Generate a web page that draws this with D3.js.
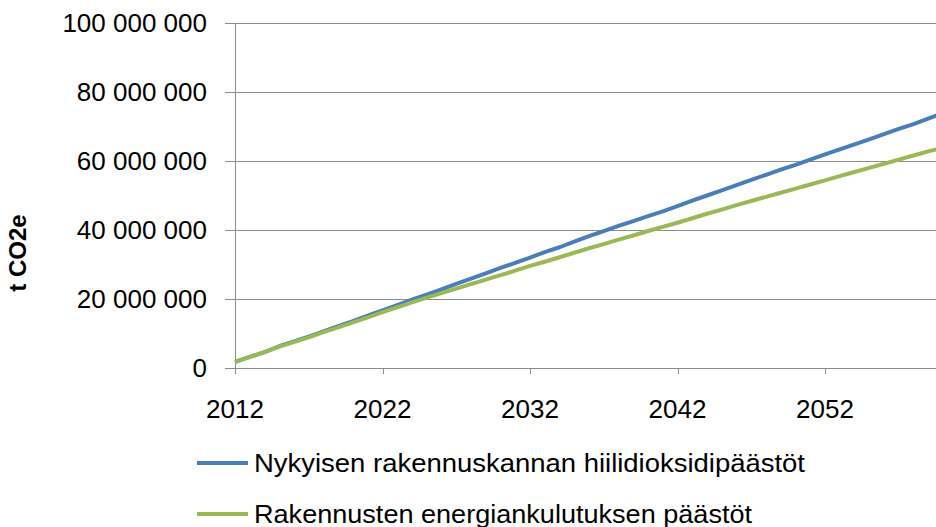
<!DOCTYPE html>
<html>
<head>
<meta charset="utf-8">
<script src="https://cdn.jsdelivr.net/npm/d3@7"></script>
<style>
  html, body { margin: 0; padding: 0; background: #fff; }
  svg { display: block; }
</style>
</head>
<body>
<svg id="chart" width="936" height="527"></svg>
<script>
// ---- Data ----
const years = d3.range(2012, 2061);
const seriesNames = [
  "Nykyisen rakennuskannan hiilidioksidipäästöt",
  "Rakennusten energiankulutuksen päästöt"
];
const blueValues = [
  1.8, 3.2, 4.6, 6.3, 7.7, 9.1, 10.6, 12.1, 13.6, 15.2,
  16.7, 18.2, 19.8, 21.3, 22.8, 24.4, 25.9, 27.4, 29.0, 30.5,
  32.0, 33.6, 35.0, 36.6, 38.2, 39.7, 41.2, 42.6, 44.0, 45.4,
  46.9, 48.5, 50.0, 51.5, 53.0, 54.5, 56.0, 57.5, 58.9, 60.4,
  61.9, 63.4, 64.8, 66.3, 67.8, 69.3, 70.7, 72.3, 73.9
].map(v => v * 1e6);
const greenValues = [
  1.8, 3.2, 4.6, 6.2, 7.6, 8.9, 10.4, 11.8, 13.2, 14.7,
  16.2, 17.6, 19.0, 20.4, 21.7, 23.0, 24.3, 25.6, 26.9, 28.2,
  29.6, 30.8, 32.1, 33.4, 34.7, 35.9, 37.2, 38.4, 39.7, 40.9,
  42.1, 43.4, 44.7, 45.9, 47.2, 48.4, 49.6, 50.8, 52.0, 53.2,
  54.4, 55.6, 56.8, 58.0, 59.2, 60.4, 61.6, 62.8, 63.8
].map(v => v * 1e6);
const yTicks = [0, 20e6, 40e6, 60e6, 80e6, 100e6];
const xTicks = [2012, 2022, 2032, 2042, 2052];
const yTitle = "t CO2e";
const colors = ["#4a7ebb", "#98b954"];

// ---- Layout ----
const svg = d3.select("#chart");
const FONT = "'Liberation Sans', Arial, sans-serif";
const x = d3.scaleLinear().domain([2012, 2060]).range([235, 943]);
const y = d3.scaleLinear().domain([0, 100e6]).range([368, 23]);

const locale = d3.formatLocale({ decimal: ",", thousands: " ", grouping: [3], currency: ["", ""] });
const fmt = locale.format(",d");

// gridlines
svg.append("g").selectAll("line").data(yTicks).join("line")
  .attr("x1", 225).attr("x2", 943)
  .attr("y1", d => Math.round(y(d)) + 0.5).attr("y2", d => Math.round(y(d)) + 0.5)
  .attr("stroke", "#8c8c8c").attr("stroke-width", 1);

// y axis line
svg.append("line")
  .attr("x1", 235.5).attr("x2", 235.5)
  .attr("y1", y(100e6)).attr("y2", 374)
  .attr("stroke", "#8c8c8c");

// x ticks
svg.append("g").selectAll("line").data(xTicks).join("line")
  .attr("x1", d => Math.round(x(d)) + 0.5).attr("x2", d => Math.round(x(d)) + 0.5)
  .attr("y1", 368).attr("y2", 374)
  .attr("stroke", "#8c8c8c");

// y tick labels
svg.append("g").selectAll("text").data(yTicks).join("text")
  .attr("x", 207).attr("y", d => y(d))
  .attr("dy", "0.35em")
  .attr("text-anchor", "end")
  .attr("font-family", FONT).attr("font-size", 26).attr("fill", "#000")
  .text(d => fmt(d));

// x tick labels
svg.append("g").selectAll("text").data(xTicks).join("text")
  .attr("x", d => x(d)).attr("y", 418)
  .attr("text-anchor", "middle")
  .attr("font-family", FONT).attr("font-size", 26).attr("fill", "#000")
  .text(d => d);

// y title
svg.append("text")
  .attr("transform", "translate(26,253) rotate(-90)")
  .attr("text-anchor", "middle")
  .attr("font-family", FONT).attr("font-size", 24).attr("font-weight", "bold").attr("fill", "#000")
  .text(yTitle);

// lines
const line = d3.line().x((d, i) => x(years[i])).y(d => y(d));
[blueValues, greenValues].forEach((vals, i) => {
  svg.append("path").datum(vals)
    .attr("d", line)
    .attr("fill", "none")
    .attr("stroke", colors[i])
    .attr("stroke-width", 4)
    .attr("stroke-linejoin", "round");
});

// legend
const legendY = [463, 514];
const legendW = [551, 498];
seriesNames.forEach((name, i) => {
  svg.append("line")
    .attr("x1", 197).attr("x2", 248)
    .attr("y1", legendY[i]).attr("y2", legendY[i])
    .attr("stroke", colors[i]).attr("stroke-width", 4);
  svg.append("text")
    .attr("x", 254).attr("y", legendY[i] + 9)
    .attr("font-family", FONT).attr("font-size", 25).attr("fill", "#000")
    .attr("textLength", legendW[i]).attr("lengthAdjust", "spacingAndGlyphs")
    .text(name);
});
</script>
</body>
</html>
